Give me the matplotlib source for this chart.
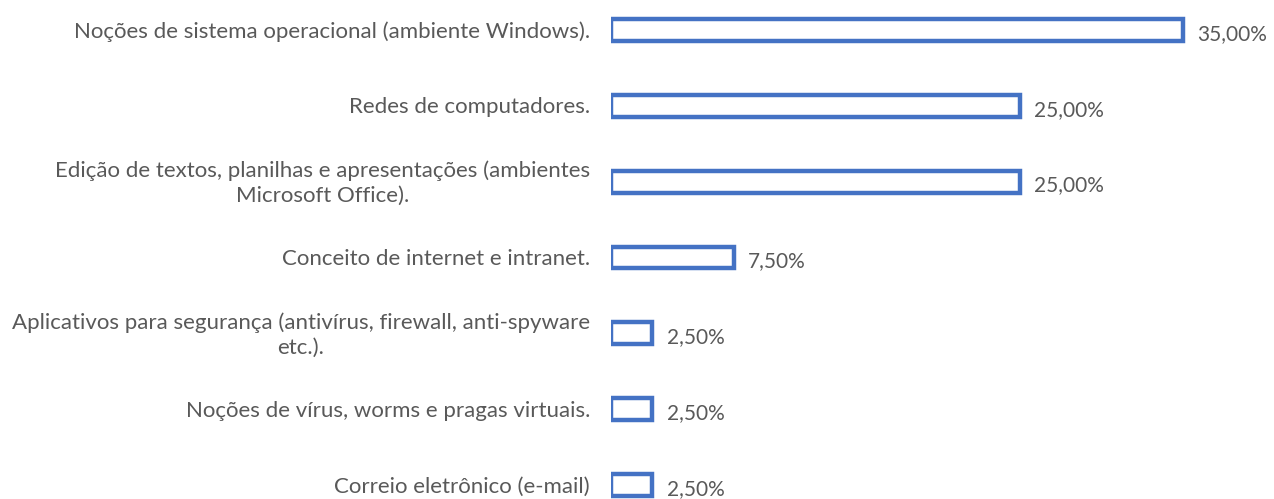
import matplotlib.pyplot as plt
import numpy as np

# dados
categorias = ['Noções de sistema operacional (ambiente Windows).',
              'Redes de computadores.',
              'Edição de textos, planilhas e apresentações (ambientes\nMicrosoft Office).',
              'Conceito de internet e intranet.',
              'Aplicativos para segurança (antivírus, firewall, anti-spyware\netc.).',
              'Noções de vírus, worms e pragas virtuais.',
              'Correio eletrônico (e-mail)']
valores = [35.0, 25.0, 25.0, 7.5, 2.5, 2.5, 2.5]
rotulos = ['35,00%', '25,00%', '25,00%', '7,50%', '2,50%', '2,50%', '2,50%']

cinza = '#595959'
azul = '#4472C4'
plt.rcParams['font.family'] = ['Lato', 'DejaVu Sans']

fig = plt.figure(figsize=(12.74, 4.99), dpi=100)
ax = fig.add_axes([611/1274, 0, (40*16.34)/1274, 1])

y = np.arange(len(categorias))
ax.barh(y, valores, height=0.29, color='white', edgecolor=azul, linewidth=3.2)

for yi, v, r in zip(y, valores, rotulos):
    ax.text(v + 0.9, yi + 0.05, r, va='center', ha='left', fontsize=15, color=cinza)

# rotulos das categorias, centralizados entre si e encostados à direita
for yi, c in zip(y, categorias):
    ax.annotate(c, xy=(0, yi + 0.02), xycoords=('axes fraction', 'data'),
                xytext=(-21, 0), textcoords='offset pixels',
                ha='right', va='center', multialignment='center',
                linespacing=1.3, fontsize=16, color=cinza, annotation_clip=False)

ax.set_xlim(0, 40)
ax.set_ylim(6.185, -0.396)
ax.set_xticks([])
ax.set_yticks([])
for s in ax.spines.values():
    s.set_visible(False)

fig.savefig('out.png', dpi=100)
